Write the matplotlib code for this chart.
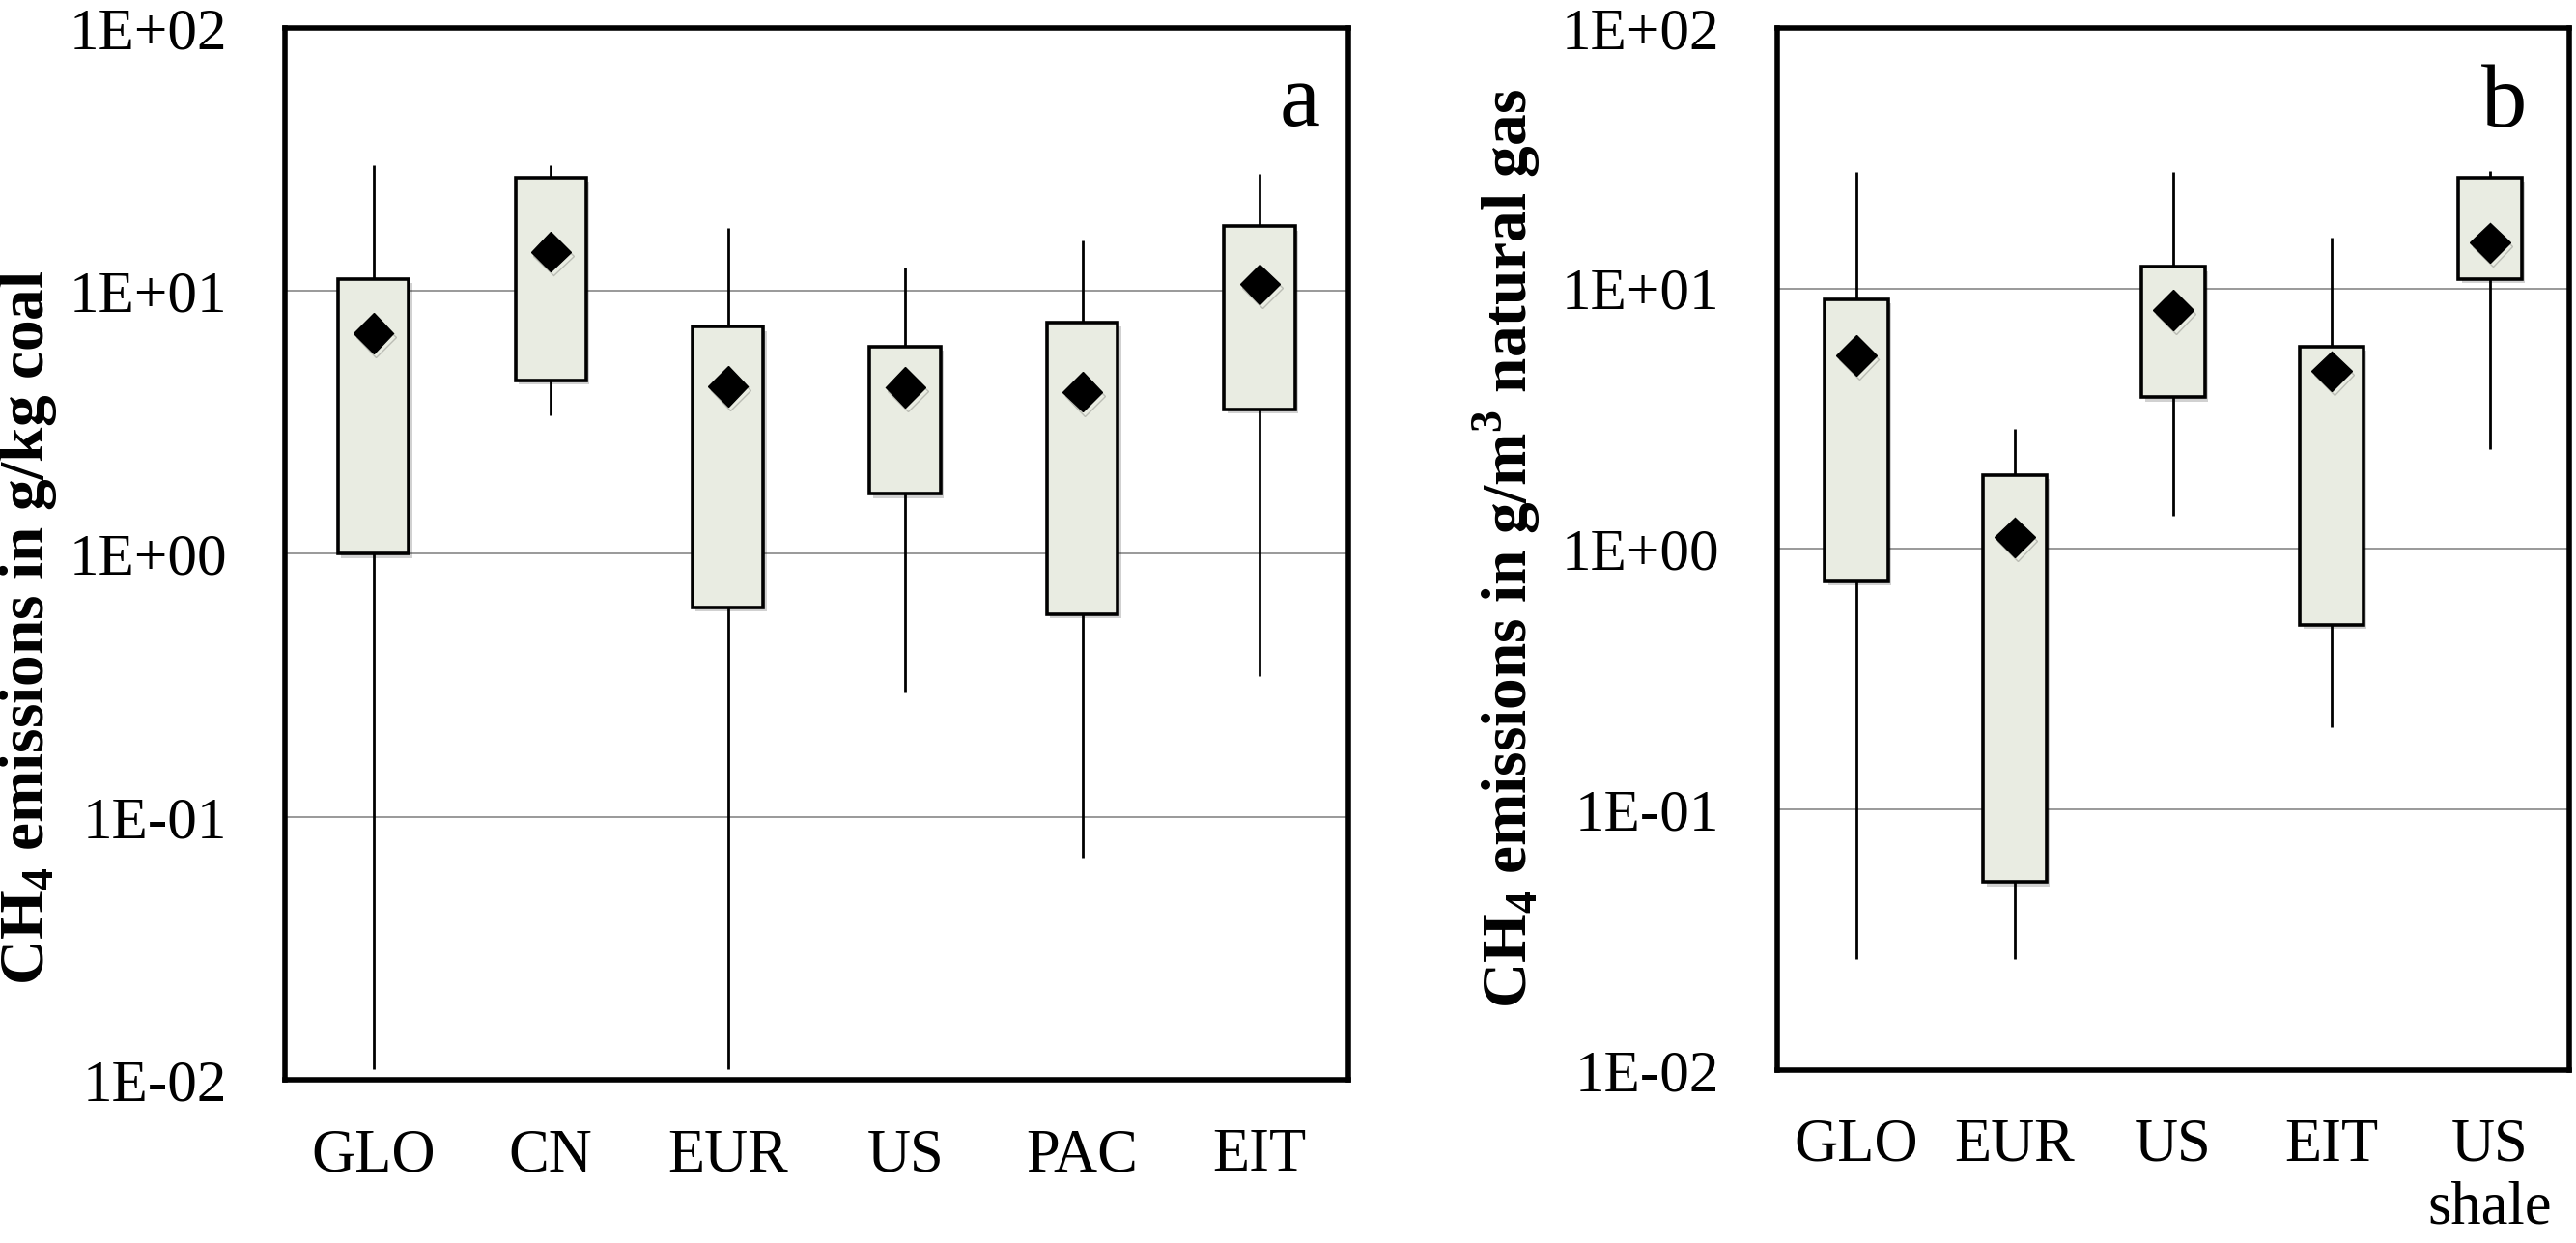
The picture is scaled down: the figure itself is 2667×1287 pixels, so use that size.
import matplotlib
matplotlib.use('Agg')
import matplotlib.pyplot as plt
import matplotlib.patheffects as pe
import numpy as np

# ==========================================
# Data
# ==========================================
coal_cats = ['GLO', 'CN', 'EUR', 'US', 'PAC', 'EIT']
coal_min = [0.011, 3.36, 0.011, 0.298, 0.070, 0.342]
coal_q1 = [1.0, 4.56, 0.626, 1.69, 0.588, 3.55]
coal_q3 = [11.1, 26.9, 7.3, 6.14, 7.6, 17.6]
coal_max = [30.1, 30.0, 17.4, 12.3, 15.5, 27.9]
coal_mean = [6.9, 14.1, 4.34, 4.3, 4.13, 10.6]

gas_cats = ['GLO', 'EUR', 'US', 'EIT', 'US\nshale']
gas_min = [0.0267, 0.0267, 1.34, 0.207, 2.41]
gas_q1 = [0.753, 0.0526, 3.82, 0.513, 10.9]
gas_q3 = [9.06, 1.92, 12.1, 5.98, 26.6]
gas_max = [28.1, 2.89, 28.1, 15.7, 28.3]
gas_mean = [5.54, 1.11, 8.26, 4.82, 15.0]

yticks = [1e-2, 1e-1, 1e0, 1e1, 1e2]
ytick_labels = ['1E-02', '1E-01', '1E+00', '1E+01', '1E+02']

plt.rcParams['font.family'] = ['Liberation Serif', 'DejaVu Serif']
plt.rcParams['mathtext.fontset'] = 'custom'
plt.rcParams['mathtext.rm'] = 'Liberation Serif'
plt.rcParams['mathtext.bf'] = 'Liberation Serif:bold'

box_color = '#E9ECE2'
shadow = [pe.SimplePatchShadow(offset=(2.5, -3), shadow_rgbFace='black', alpha=0.18), pe.Normal()]


def draw_panel(ax, cats, vmin, q1, q3, vmax, mean, ylabel, tag, label_xy, tag_xy):
    x = np.arange(len(cats))
    q1 = np.array(q1)
    q3 = np.array(q3)
    # whiskers (min -> Q1, Q3 -> max)
    ax.vlines(x, vmin, q1, color='black', lw=2, zorder=2)
    ax.vlines(x, q3, vmax, color='black', lw=2, zorder=2)
    # boxes with a soft Excel-like shadow
    bars = ax.bar(x, q3 - q1, bottom=q1, width=0.4, color=box_color,
                  edgecolor='black', linewidth=2.6, zorder=3)
    for b in bars:
        b.set_path_effects(shadow)
    # mean markers
    ax.plot(x, mean, 'D', color='black', ms=21, zorder=4,
            path_effects=[pe.SimpleLineShadow(offset=(2, -3), alpha=0.2), pe.Normal()])

    ax.set_yscale('log')
    ax.set_ylim(1e-2, 1e2)
    ax.set_xlim(-0.5, len(cats) - 0.5)
    ax.set_yticks(yticks)
    ax.set_yticklabels(ytick_labels)
    ax.minorticks_off()
    ax.set_xticks(x)
    ax.set_xticklabels(cats, linespacing=1.15)
    ax.tick_params(axis='y', length=0, pad=43, labelsize=44)
    ax.tick_params(axis='x', length=0, pad=36, labelsize=45)
    ax.yaxis.grid(True, color='#878787', lw=1.2, zorder=0)
    ax.set_axisbelow(True)
    for s in ax.spines.values():
        s.set_linewidth(4)

    ax.set_ylabel(ylabel, fontsize=47, fontweight='bold')
    ax.yaxis.set_label_coords(*label_xy)
    ax.text(tag_xy[0], tag_xy[1], tag, transform=ax.transAxes, fontsize=68,
            ha='right', va='baseline')


fig = plt.figure(figsize=(26.67, 12.87), dpi=100)
ax_a = fig.add_axes([0.1106, 0.1313, 0.4128, 0.8462])
ax_b = fig.add_axes([0.6899, 0.1391, 0.3075, 0.8384])

draw_panel(ax_a, coal_cats, coal_min, coal_q1, coal_q3, coal_max, coal_mean,
           r'CH$_\mathbf{4}$ emissions in g/kg coal', 'a', (-0.2125, 0.43), (0.973, 0.907))
draw_panel(ax_b, gas_cats, gas_min, gas_q1, gas_q3, gas_max, gas_mean,
           r'CH$_\mathbf{4}$ emissions in g/m$^\mathbf{3}$ natural gas', 'b', (-0.295, 0.5), (0.946, 0.9055))

fig.savefig('out.png', dpi=100, facecolor='white')
